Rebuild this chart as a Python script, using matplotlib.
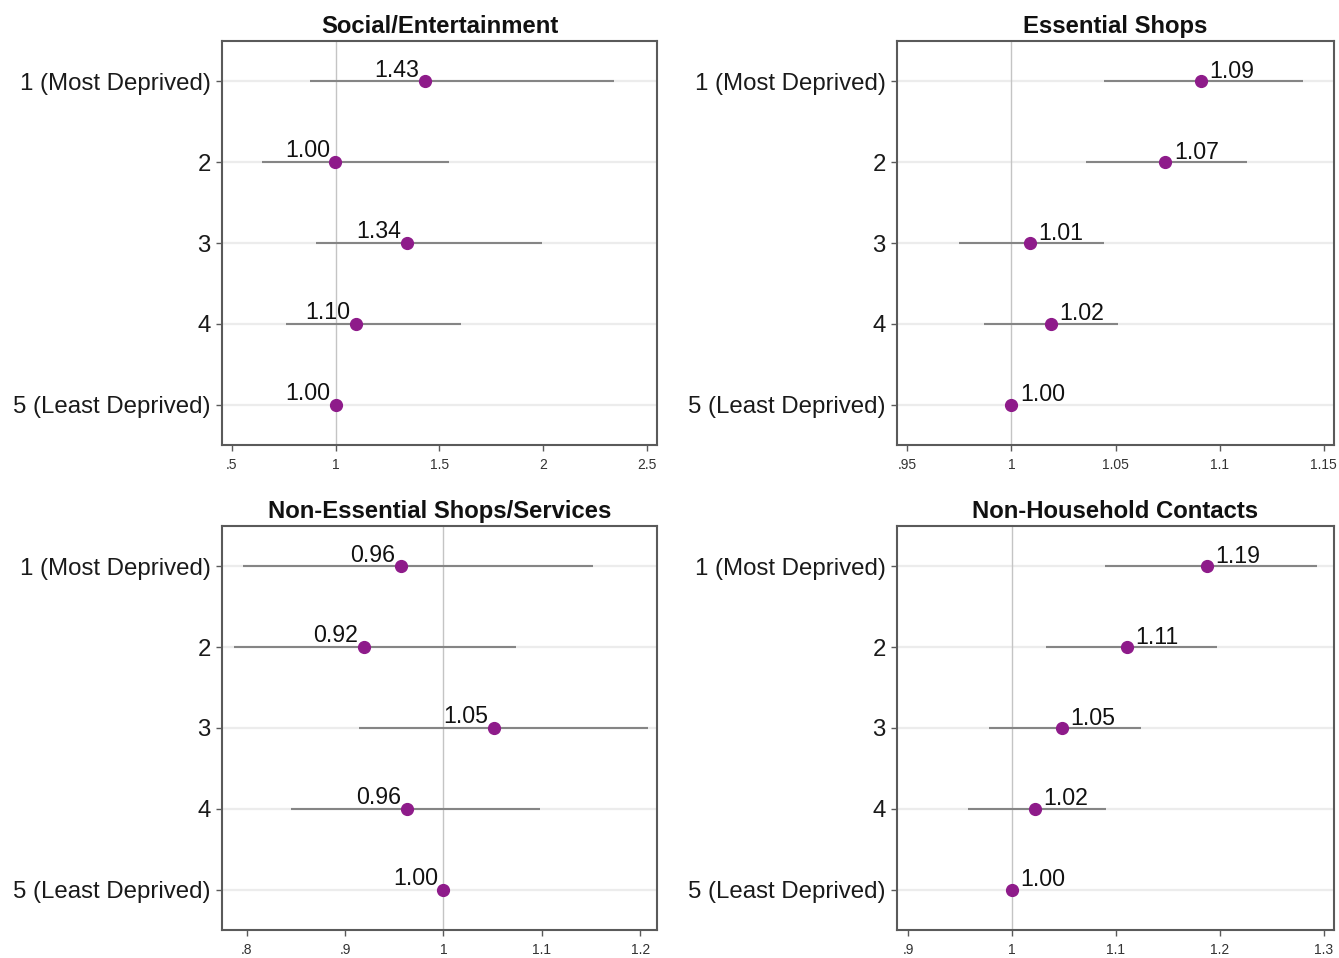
import numpy as np
import matplotlib
matplotlib.use("Agg")
import matplotlib.pyplot as plt
from matplotlib.ticker import FuncFormatter

# ====================================================================
# DATA (odds ratios with 95% CI)
# ====================================================================
categories = ["1 (Most Deprived)", "2", "3", "4", "5 (Least Deprived)"]

titles = ["Social/Entertainment", "Essential Shops",
          "Non-Essential Shops/Services", "Non-Household Contacts"]

social_or = [1.431, 0.998, 1.343, 1.098, 1.0]
social_lo = [0.876, 0.643, 0.903, 0.758, np.nan]
social_hi = [2.341, 1.547, 1.995, 1.604, np.nan]

essential_or = [1.091, 1.074, 1.009, 1.019, 1.0]
essential_lo = [1.0445, 1.036, 0.975, 0.987, np.nan]
essential_hi = [1.140, 1.113, 1.0445, 1.051, np.nan]

nonessential_or = [0.957, 0.919, 1.051, 0.963, 1.0]
nonessential_lo = [0.796, 0.787, 0.914, 0.845, np.nan]
nonessential_hi = [1.152, 1.074, 1.2075, 1.098, np.nan]

contacts_or = [1.188, 1.111, 1.048, 1.022, 1.0]
contacts_lo = [1.090, 1.033, 0.9775, 0.958, np.nan]
contacts_hi = [1.294, 1.197, 1.124, 1.091, np.nan]

xticks = [[0.5, 1, 1.5, 2, 2.5],
          [0.95, 1, 1.05, 1.1, 1.15],
          [0.8, 0.9, 1, 1.1, 1.2],
          [0.9, 1, 1.1, 1.2, 1.3]]

# ====================================================================
# STYLE
# ====================================================================
plt.rcParams['font.family'] = ['Liberation Sans', 'DejaVu Sans']

W, H = 1339, 958
MARKER = '#8E1B8A'
CI_COL = '#858585'
FRAME = '#5a5a5a'

# axes boxes in pixels: left, top, right, bottom
boxes = [(222, 41, 657, 445), (897, 41, 1334, 445),
         (222, 526, 657, 930), (897, 526, 1334, 930)]
xlims = [(0.452, 2.548), (0.945, 1.155), (0.775, 1.217), (0.8894, 1.310)]
label_side = ['left', 'right', 'left', 'right']

series = [(social_or, social_lo, social_hi),
          (essential_or, essential_lo, essential_hi),
          (nonessential_or, nonessential_lo, nonessential_hi),
          (contacts_or, contacts_lo, contacts_hi)]


def stata_fmt(v, pos):
    s = f"{v:g}"
    if s.startswith("0."):
        s = s[1:]
    return s


fig = plt.figure(figsize=(W / 100, H / 100), dpi=100)

for i, (vals, lo, hi) in enumerate(series):
    l, t, r, b = boxes[i]
    ax = fig.add_axes([l / W, 1 - b / H, (r - l) / W, (b - t) / H])
    y = np.arange(1, len(categories) + 1)

    # light horizontal grid at each category + reference line at 1
    for yy in y:
        ax.axhline(yy, color='#ececec', lw=1.6, zorder=0)
    ax.axvline(1, color='#c4c4c4', lw=1.0, zorder=1)

    ax.hlines(y, lo, hi, color=CI_COL, lw=1.5, zorder=2)
    ax.plot(vals, y, 'o', color=MARKER, ms=8.5, zorder=3, mec=MARKER)

    for v, yy in zip(vals, y):
        if label_side[i] == 'left':
            ax.annotate(f"{v:.2f}", (v, yy), xytext=(-4, 3.5),
                        textcoords='offset points', ha='right', va='baseline',
                        fontsize=16.7, color='#111111', zorder=4)
        else:
            ax.annotate(f"{v:.2f}", (v, yy), xytext=(6, 2.5),
                        textcoords='offset points', ha='left', va='baseline',
                        fontsize=16.7, color='#111111', zorder=4)

    ax.set_xlim(*xlims[i])
    ax.set_ylim(5.5, 0.5)
    ax.set_yticks(y)
    ax.set_yticklabels(categories, fontsize=17.3, color='#1a1a1a')
    ax.set_xticks(xticks[i])
    ax.xaxis.set_major_formatter(FuncFormatter(stata_fmt))
    ax.tick_params(axis='x', labelsize=10, colors=FRAME, labelcolor='#333333',
                   length=4, width=1, pad=5)
    ax.tick_params(axis='y', colors=FRAME, labelcolor='#1a1a1a',
                   length=4, width=1, pad=4)

    for sp in ax.spines.values():
        sp.set_color(FRAME)
        sp.set_linewidth(1.5)

    ax.set_title(titles[i], fontsize=17.2, fontweight='bold', pad=6,
                 color='#111111')

fig.savefig("out.png", dpi=100)
